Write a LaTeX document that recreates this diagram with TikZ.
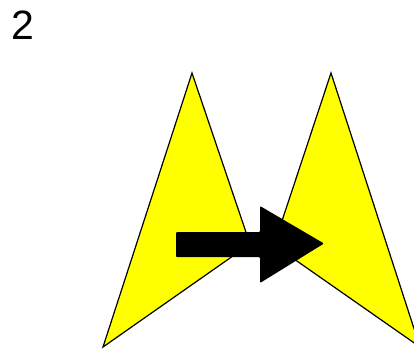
\documentclass[tikz,border=0pt]{standalone}
\usepackage{fontspec}
\setsansfont{Liberation Sans}
\definecolor{wingyellow}{RGB}{255,255,0}

\begin{document}
\begin{tikzpicture}[
    x=1pt, y=-1pt,
    wing/.style={draw=black, fill=wingyellow, line width=1.2pt},
    bigarrow/.style={fill=black, rounded corners=1pt},
    steplabel/.style={font=\sffamily\fontsize{41}{41}\selectfont, inner sep=0pt}
]
    \useasboundingbox (0,0) rectangle (414,349);

    % --- Step number ---
    \node[steplabel] (num) at (23,25) {2};

    % --- Left wing ---
    \draw[wing] (192,73) -- (250,244) -- (103,347) -- cycle;

    % --- Right wing (mirrored) ---
    \draw[wing] (331,73) -- (274,245) -- (420,347) -- cycle;

    % --- Big arrow between them ---
    \fill[bigarrow] (176,232) -- (260,232) -- (260,206) -- (324,243.5)
        -- (260,283) -- (260,257) -- (176,257) -- cycle;
\end{tikzpicture}
\end{document}
